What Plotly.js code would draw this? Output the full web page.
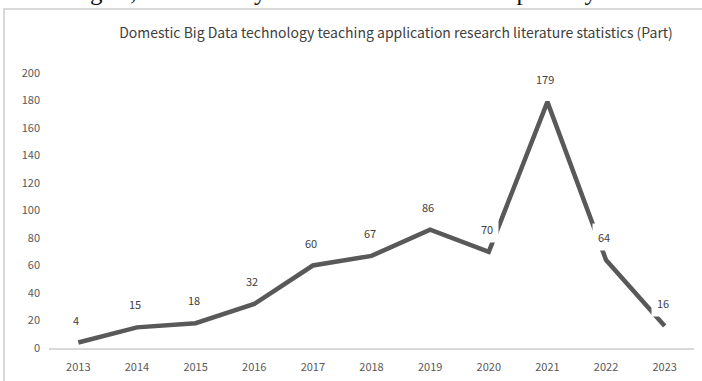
<!DOCTYPE html>
<html>
<head>
<meta charset="utf-8">
<script src="https://cdn.plot.ly/plotly-3.0.1.min.js"></script>
<style>
  html, body { margin: 0; padding: 0; width: 702px; height: 381px; overflow: hidden; background: #fff; }
  #toptext { position: absolute; left: 4px; top: -22px; font-family: "Liberation Serif", serif; font-size: 25px; color: #111; white-space: nowrap; }
  #chart { position: absolute; left: 3px; top: 8px; width: 702px; height: 380px; border-left: 2px solid #d9d9d9; border-top: 2px solid #d9d9d9; }
</style>
</head>
<body>
<div id="toptext">technologies, and is rarely studied and discussed separately.</div>
<div id="chart"></div>
<script>
const years = ["2013","2014","2015","2016","2017","2018","2019","2020","2021","2022","2023"];
const counts = [4, 15, 18, 32, 60, 67, 86, 70, 179, 64, 16];
const yTicks = [0, 20, 40, 60, 80, 100, 120, 140, 160, 180, 200];
const chartTitle = "Domestic Big Data technology teaching application research literature statistics (Part)";

const font = "'Noto Sans CJK SC', 'Noto Sans', sans-serif";

const trace = {
  type: "scatter",
  mode: "lines",
  x: years,
  y: counts,
  line: { color: "#595959", width: 4.5 },
  hoverinfo: "skip"
};

const annotations = years.map((yr, i) => ({
  x: i, y: counts[i], xref: "x", yref: "y",
  text: String(counts[i]),
  showarrow: false,
  yshift: 23, xshift: -2,
  bgcolor: "#ffffff",
  borderpad: 5,
  font: { family: font, size: 11, color: "#404040" }
}));

const layout = {
  width: 702, height: 380,
  margin: { l: 44, r: 13, t: 63, b: 42 },
  paper_bgcolor: "#ffffff",
  plot_bgcolor: "#ffffff",
  showlegend: false,
  title: {
    text: chartTitle,
    x: 0.538, xref: "paper", xanchor: "center",
    y: 0.94, yref: "container", yanchor: "middle",
    font: { family: font, size: 14, color: "#404040" }
  },
  xaxis: {
    type: "category",
    range: [-0.5, 10.5],
    showline: true, linecolor: "#d9d9d9", linewidth: 1.5,
    showgrid: false, zeroline: false,
    ticks: "",
    ticklabelstandoff: 8,
    tickfont: { family: font, size: 11, color: "#595959" }
  },
  yaxis: {
    range: [0, 200],
    tickvals: yTicks,
    ticktext: yTicks.map(String),
    showline: false, showgrid: false, zeroline: false,
    ticks: "",
    ticklabelstandoff: 8,
    tickfont: { family: font, size: 11, color: "#595959" }
  },
  annotations: annotations
};

Plotly.newPlot("chart", [trace], layout, { displayModeBar: false, staticPlot: true });
</script>
</body>
</html>
